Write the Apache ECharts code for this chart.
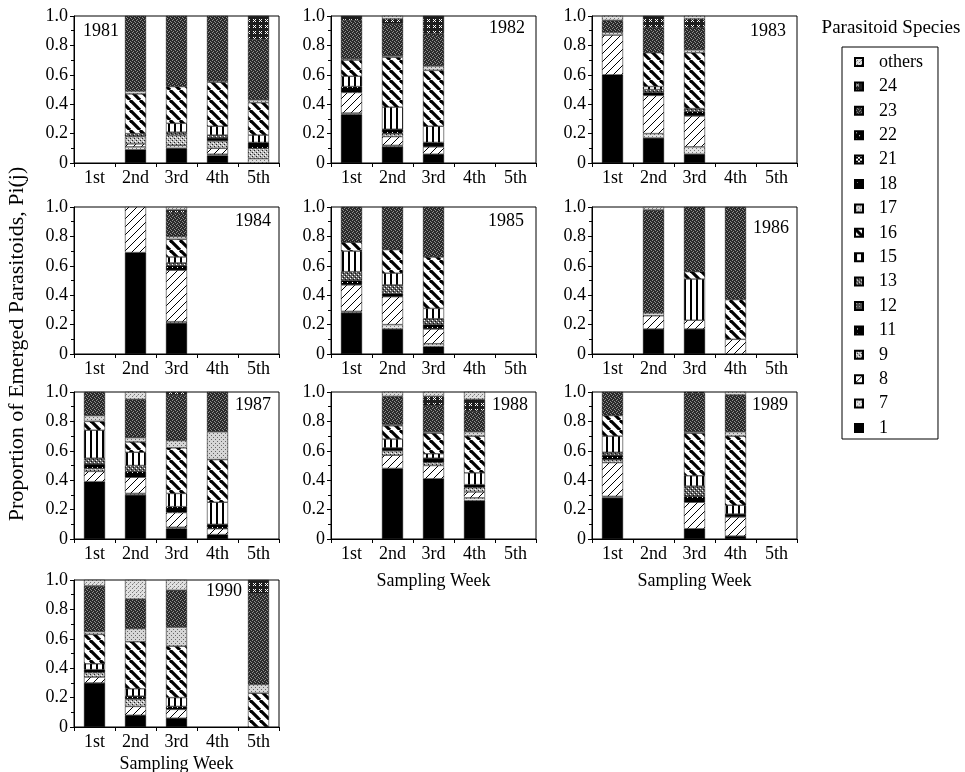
<!DOCTYPE html>
<html>
<head>
<meta charset="utf-8">
<script src="https://cdn.jsdelivr.net/npm/echarts@6/dist/echarts.min.js"></script>
<style>html,body{margin:0;padding:0;background:#fff}#c{width:965px;height:772px}</style>
</head>
<body>
<div id="c"></div>
<script>
// ---------- DATA ----------
const weeks = ['1st', '2nd', '3rd', '4th', '5th'];
const years = ['1981', '1982', '1983', '1984', '1985', '1986', '1987', '1988', '1989', '1990'];
const species = ['1', '7', '8', '9', '11', '12', '13', '15', '16', '17', '18', '21', '22', '23', '24', 'others'];
const yTicks = [0, 0.2, 0.4, 0.6, 0.8, 1.0];

// each row = one year (1981..1990), columns = sampling weeks 1st..5th
const sp1 = [
  [0, 0.09, 0.10, 0.05, 0], [0.33, 0.11, 0.06, 0, 0], [0.60, 0.17, 0.06, 0, 0], [0, 0.69, 0.21, 0, 0],
  [0.28, 0.17, 0.05, 0, 0], [0, 0.17, 0.17, 0, 0], [0.39, 0.30, 0.07, 0.03, 0], [0, 0.48, 0.41, 0.26, 0],
  [0.28, 0, 0.07, 0.02, 0], [0.30, 0.08, 0.06, 0, 0]];
const sp7 = [
  [0, 0.02, 0.02, 0.01, 0.03], [0.01, 0.01, 0, 0, 0], [0, 0.03, 0.05, 0, 0], [0, 0, 0.01, 0, 0],
  [0.01, 0.03, 0.02, 0, 0], [0, 0, 0, 0, 0], [0, 0.01, 0.01, 0, 0], [0, 0, 0, 0.02, 0],
  [0.01, 0, 0, 0, 0], [0, 0, 0, 0, 0]];
const sp8 = [
  [0, 0.02, 0, 0.04, 0], [0.14, 0.06, 0.05, 0, 0], [0.27, 0.26, 0.21, 0, 0], [0, 0.31, 0.35, 0, 0],
  [0.18, 0.19, 0.10, 0, 0], [0, 0.09, 0.06, 0.10, 0], [0.07, 0.11, 0.10, 0.04, 0], [0, 0.09, 0.09, 0.04, 0],
  [0.23, 0, 0.18, 0.13, 0], [0.04, 0.06, 0.06, 0, 0]];
const sp9 = [
  [0, 0.05, 0.07, 0.05, 0.07], [0, 0.02, 0, 0, 0], [0, 0, 0, 0, 0], [0, 0, 0, 0, 0],
  [0, 0, 0, 0, 0], [0, 0, 0, 0, 0], [0.02, 0, 0, 0, 0], [0, 0.03, 0.02, 0.03, 0],
  [0.02, 0, 0, 0, 0], [0.03, 0.05, 0, 0, 0]];
const sp11 = [
  [0, 0, 0, 0.02, 0.04], [0.04, 0.03, 0.03, 0, 0], [0, 0.02, 0.03, 0, 0], [0, 0, 0.03, 0, 0],
  [0.03, 0.02, 0.03, 0, 0], [0, 0, 0, 0, 0], [0.03, 0.04, 0.04, 0.03, 0], [0, 0.02, 0.03, 0.02, 0],
  [0.03, 0, 0.04, 0.02, 0], [0.02, 0.02, 0.02, 0, 0]];
const sp12 = [
  [0, 0, 0, 0, 0], [0, 0, 0, 0, 0], [0, 0, 0, 0, 0], [0, 0, 0, 0, 0], [0, 0, 0, 0, 0],
  [0, 0, 0, 0, 0], [0, 0, 0, 0, 0], [0, 0, 0, 0, 0], [0, 0, 0, 0, 0], [0, 0, 0, 0, 0]];
const sp13 = [
  [0, 0.02, 0.02, 0.02, 0], [0, 0, 0, 0, 0], [0, 0.02, 0.02, 0, 0], [0, 0, 0.02, 0, 0],
  [0.06, 0.06, 0.04, 0, 0], [0, 0, 0, 0, 0], [0.04, 0.04, 0, 0, 0], [0, 0, 0, 0, 0],
  [0.02, 0, 0.07, 0, 0], [0, 0, 0, 0, 0]];
const sp15 = [
  [0, 0, 0.06, 0.06, 0.05], [0.07, 0.15, 0.11, 0, 0], [0, 0.02, 0, 0, 0], [0, 0, 0.04, 0, 0],
  [0.14, 0.08, 0.07, 0, 0], [0, 0, 0.28, 0, 0], [0.19, 0.09, 0.09, 0.15, 0], [0, 0.06, 0.03, 0.08, 0],
  [0.11, 0, 0.07, 0.06, 0], [0.04, 0.05, 0.06, 0, 0]];
const sp16 = [
  [0, 0.27, 0.25, 0.30, 0.22], [0.11, 0.34, 0.38, 0, 0], [0, 0.23, 0.38, 0, 0], [0, 0, 0.12, 0, 0],
  [0.06, 0.16, 0.35, 0, 0], [0, 0, 0.05, 0.27, 0], [0.06, 0.07, 0.31, 0.29, 0], [0, 0.09, 0.14, 0.25, 0],
  [0.14, 0, 0.29, 0.47, 0], [0.20, 0.32, 0.35, 0, 0.23]];
const sp17 = [
  [0, 0.02, 0, 0.01, 0.02], [0.01, 0.01, 0.03, 0, 0], [0.02, 0, 0.02, 0, 0], [0, 0, 0.02, 0, 0],
  [0, 0, 0, 0, 0], [0, 0.02, 0, 0, 0], [0.04, 0.03, 0.05, 0.19, 0], [0, 0.01, 0.01, 0.03, 0],
  [0, 0, 0.01, 0.03, 0], [0.02, 0.09, 0.13, 0, 0.06]];
const sp18 = [
  [0, 0, 0, 0, 0], [0, 0, 0, 0, 0], [0, 0, 0, 0, 0], [0, 0, 0, 0, 0], [0, 0, 0, 0, 0],
  [0, 0, 0, 0, 0], [0, 0, 0, 0, 0], [0, 0, 0, 0, 0], [0, 0, 0, 0, 0], [0, 0, 0, 0, 0]];
const sp21 = [
  [0, 0, 0, 0, 0], [0, 0, 0, 0, 0], [0, 0, 0, 0, 0], [0, 0, 0, 0, 0], [0, 0, 0, 0, 0],
  [0, 0, 0, 0, 0], [0, 0, 0, 0, 0], [0, 0, 0, 0, 0], [0, 0, 0, 0, 0], [0, 0, 0, 0, 0]];
const sp22 = [
  [0, 0, 0, 0, 0], [0, 0, 0, 0, 0], [0, 0, 0, 0, 0], [0, 0, 0, 0, 0], [0, 0, 0, 0, 0],
  [0, 0, 0, 0, 0], [0, 0, 0, 0, 0], [0, 0, 0, 0, 0], [0, 0, 0, 0, 0], [0, 0, 0, 0, 0]];
const sp23 = [
  [0, 0.51, 0.48, 0.44, 0.41], [0.26, 0.22, 0.22, 0, 0], [0.08, 0.17, 0.15, 0, 0], [0, 0, 0.16, 0, 0],
  [0.24, 0.29, 0.34, 0, 0], [0, 0.70, 0.44, 0.63, 0], [0.16, 0.26, 0.31, 0.27, 0], [0, 0.19, 0.18, 0.14, 0],
  [0.16, 0, 0.26, 0.25, 0], [0.31, 0.20, 0.25, 0, 0.62]];
const sp24 = [
  [0, 0, 0, 0, 0.16], [0.03, 0.03, 0.12, 0, 0], [0, 0.08, 0.06, 0, 0], [0, 0, 0.02, 0, 0],
  [0, 0, 0, 0, 0], [0, 0, 0, 0, 0], [0, 0, 0.02, 0, 0], [0, 0, 0.06, 0.08, 0],
  [0, 0, 0.01, 0, 0], [0, 0, 0, 0, 0.09]];
const spOthers = [
  [0, 0, 0, 0, 0], [0, 0.02, 0, 0, 0], [0.03, 0, 0.02, 0, 0], [0, 0, 0.02, 0, 0],
  [0, 0, 0, 0, 0], [0, 0.02, 0, 0, 0], [0, 0.05, 0, 0, 0], [0, 0.03, 0.03, 0.05, 0],
  [0, 0, 0, 0.02, 0], [0.04, 0.13, 0.07, 0, 0]];

const speciesData = {
  '1': sp1, '7': sp7, '8': sp8, '9': sp9, '11': sp11, '12': sp12, '13': sp13, '15': sp15,
  '16': sp16, '17': sp17, '18': sp18, '21': sp21, '22': sp22, '23': sp23, '24': sp24, 'others': spOthers
};

// ---------- STYLES (patterns) ----------
function pat(size, bg, draw) {
  const c = document.createElement('canvas');
  c.width = size; c.height = size;
  const g = c.getContext('2d');
  g.fillStyle = bg; g.fillRect(0, 0, size, size);
  if (draw) draw(g, size);
  return { image: c, repeat: 'repeat' };
}
function px(g, col, pts) { g.fillStyle = col; pts.forEach(p => g.fillRect(p[0], p[1], 1, 1)); }
function diag(g, s, w, back) {
  g.strokeStyle = '#000'; g.lineWidth = w;
  for (let k = -1; k <= 1; k++) {
    g.beginPath();
    if (back) { g.moveTo(k * s, 0); g.lineTo(k * s + s, s); }
    else { g.moveTo(k * s, s); g.lineTo(k * s + s, 0); }
    g.stroke();
  }
}
const fills = {
  '1': '#000',
  '7': pat(4, '#e4e4e4', g => px(g, '#777', [[0, 0], [2, 2]])),
  '8': pat(8, '#fff', (g, s) => diag(g, s, 1, false)),
  '9': pat(4, '#bbb', g => { px(g, '#222', [[0, 0], [2, 2]]); px(g, '#fff', [[1, 3], [3, 1]]); }),
  '11': pat(5, '#000', g => px(g, '#fff', [[2, 2]])),
  '12': pat(3, '#4a4a4a', g => px(g, '#999', [[1, 1]])),
  '13': pat(4, '#666', g => { px(g, '#fff', [[0, 0], [2, 2]]); px(g, '#111', [[1, 3], [3, 1]]); }),
  '15': pat(6, '#fff', g => { g.fillStyle = '#000'; g.fillRect(0, 0, 2, 6); }),
  '16': pat(10, '#fff', (g, s) => diag(g, s, 3.2, true)),
  '17': pat(4, '#d6d6d6', g => px(g, '#666', [[1, 1], [3, 3]])),
  '18': pat(5, '#000', g => px(g, '#777', [[2, 2]])),
  '21': pat(4, '#fff', g => px(g, '#000', [[0, 0], [1, 1], [2, 2], [3, 3], [0, 3], [1, 2], [2, 1], [3, 0]])),
  '22': pat(6, '#000', g => px(g, '#fff', [[1, 1], [4, 4]])),
  '23': pat(4, '#2a2a2a', g => px(g, '#8e8e8e', [[0, 0], [2, 1], [1, 3], [3, 2]])),
  '24': pat(6, '#1e1e1e', g => px(g, '#fff', [[1, 1], [3, 1], [2, 2], [1, 3], [3, 3]])),
  'others': pat(4, '#e0e0e0', g => { px(g, '#777', [[0, 0], [2, 2]]); px(g, '#aaa', [[1, 3]]); })
};

// ---------- LAYOUT ----------
const colLeft = [74, 331, 592];
const rowTop = [16, 207, 392, 580];
const panelPos = [[0, 0], [0, 1], [0, 2], [1, 0], [1, 1], [1, 2], [2, 0], [2, 1], [2, 2], [3, 0]];
const yearPos = [[83, 22], [489, 19], [750, 22], [235, 212], [488, 212], [753, 219], [235, 396], [492, 396], [752, 396], [206, 582]];
const FONT = 'Liberation Serif';

const grids = [], xAxes = [], yAxes = [], series = [], titles = [];
years.forEach((yr, i) => {
  const [r, c] = panelPos[i];
  grids.push({ left: colLeft[c], top: rowTop[r], width: 205, height: 147, show: true,
    borderColor: '#000', borderWidth: 1, backgroundColor: 'transparent',
    containLabel: false, outerBoundsMode: 'none' });
  const withName = (i === 7 || i === 8 || i === 9);
  xAxes.push({ type: 'category', gridIndex: i, data: weeks, boundaryGap: true,
    axisLine: { lineStyle: { color: '#000', width: 1 } },
    axisTick: { show: true, length: 4, lineStyle: { color: '#000' } },
    axisLabel: { color: '#000', fontFamily: FONT, fontSize: 18, margin: 6 },
    splitLine: { show: false },
    name: withName ? 'Sampling Week' : '', nameLocation: 'middle', nameGap: i === 9 ? 28 : 33,
    nameTextStyle: { color: '#000', fontFamily: FONT, fontSize: 18 } });
  yAxes.push({ type: 'value', gridIndex: i, min: 0, max: 1, interval: 0.2,
    axisLine: { show: true, lineStyle: { color: '#000', width: 1 } },
    axisTick: { show: true, length: 4, lineStyle: { color: '#000' } },
    minorTick: { show: true, splitNumber: 2, length: 3, lineStyle: { color: '#000' } },
    axisLabel: { color: '#000', fontFamily: FONT, fontSize: 18, margin: 6,
      formatter: v => (v === 0 ? '0' : v.toFixed(1)) },
    splitLine: { show: false } });
  titles.push({ text: yr, left: yearPos[i][0], top: yearPos[i][1], padding: 0,
    textStyle: { color: '#000', fontFamily: FONT, fontSize: 18, fontWeight: 'normal' } });
  species.forEach(sp => {
    series.push({
      name: sp, type: 'bar', stack: 'st' + i, xAxisIndex: i, yAxisIndex: i,
      barWidth: 21, silent: true, animation: false,
      itemStyle: { color: fills[sp], borderColor: '#000', borderWidth: 0.5 },
      emphasis: { disabled: true },
      data: speciesData[sp][i].map(v => (v === 0 ? null : v))
    });
  });
});

const chart = echarts.init(document.getElementById('c'), null, { renderer: 'canvas' });
chart.setOption({
  backgroundColor: '#fff',
  animation: false,
  title: titles,
  grid: grids,
  xAxis: xAxes,
  yAxis: yAxes,
  legend: {
    orient: 'vertical', left: 842, top: 47,
    data: species.slice().reverse(),
    icon: 'rect', itemWidth: 8, itemHeight: 8, itemGap: 6.4,
    padding: [6, 15, 2, 12],
    borderColor: '#000', borderWidth: 1,
    selectedMode: false,
    textStyle: { color: '#000', fontFamily: FONT, fontSize: 18, lineHeight: 18, padding: [0, 0, 0, 11] }
  },
  graphic: [
    { type: 'text', x: 891, y: 28, style: { text: 'Parasitoid Species', fill: '#000',
      font: '19px "Liberation Serif"', textAlign: 'center', textVerticalAlign: 'middle' } },
    { type: 'text', x: 17, y: 344, rotation: Math.PI / 2, style: { text: 'Proportion of Emerged Parasitoids, Pi(j)',
      fill: '#000', font: '22px "Liberation Serif"', textAlign: 'center', textVerticalAlign: 'middle' } }
  ],
  series: series
});
</script>
</body>
</html>
